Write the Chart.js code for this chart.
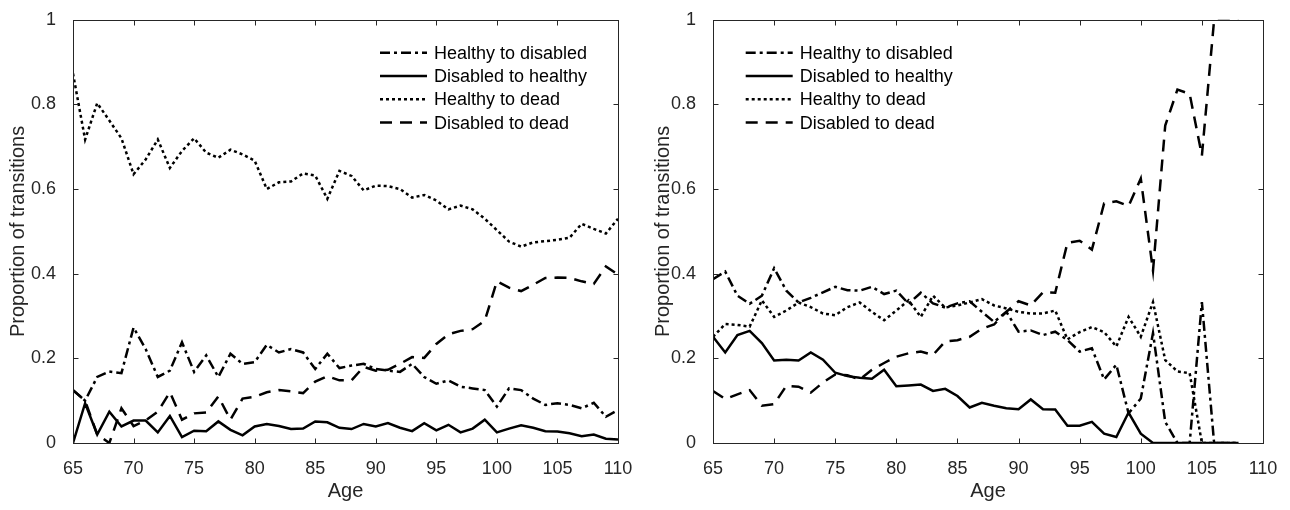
<!DOCTYPE html>
<html>
<head>
<meta charset="utf-8">
<script src="https://cdn.jsdelivr.net/npm/chart.js@4.4.1/dist/chart.umd.min.js"></script>
<style>
  body { margin: 0; background: #fff; }
  .painel { position: absolute; top: 0; width: 645px; height: 510px; }
</style>
</head>
<body>
<div class="painel" style="left:0"><canvas id="graficoEsq" width="645" height="510"></canvas></div>
<div class="painel" style="left:645px"><canvas id="graficoDir" width="645" height="510"></canvas></div>
<script>
// idades (eixo x)
const idadesEsq = [65,66,67,68,69,70,71,72,73,74,75,76,77,78,79,80,81,82,83,84,85,86,87,88,89,90,
  91,92,93,94,95,96,97,98,99,100,101,102,103,104,105,106,107,108,109,110]
const idadesDir = [65,66,67,68,69,70,71,72,73,74,75,76,77,78,79,80,81,82,83,84,85,86,87,88,89,90,
  91,92,93,94,95,96,97,98,99,100,101,102,103,104,105,106,107,108]

const rotulos = ["Healthy to disabled", "Disabled to healthy", "Healthy to dead", "Disabled to dead"]
const ticksX = [65,70,75,80,85,90,95,100,105,110]
const ticksY = [0,0.2,0.4,0.6,0.8,1]
const textosY = ["0","0.2","0.4","0.6","0.8","1"]

// painel esquerdo
const saudavelDoenteEsq = [0.125,0.100,0.156,0.169,0.165,0.273,0.222,0.156,0.171,0.238,0.168,0.207,0.156,0.211,0.187,0.191,
  0.232,0.214,0.222,0.214,0.175,0.211,0.177,0.183,0.187,0.175,0.171,0.168,0.187,0.156,0.140,0.148,0.133,0.129,0.125,0.086,
  0.129,0.125,0.105,0.090,0.094,0.090,0.082,0.095,0.062,0.078]
const doenteSaudavelEsq = [0,0.094,0.020,0.074,0.039,0.053,0.053,0.025,0.064,0.014,0.029,0.028,0.051,0.031,0.018,0.039,
  0.045,0.040,0.033,0.034,0.051,0.049,0.036,0.033,0.045,0.039,0.047,0.036,0.028,0.047,0.030,0.043,0.025,0.034,0.055,0.025,
  0.034,0.042,0.036,0.028,0.027,0.023,0.016,0.020,0.010,0.008]
const saudavelMortoEsq = [0.873,0.717,0.803,0.762,0.720,0.635,0.670,0.717,0.650,0.690,0.720,0.686,0.674,0.693,0.682,0.667,
  0.600,0.616,0.618,0.637,0.632,0.577,0.643,0.631,0.597,0.608,0.607,0.600,0.580,0.586,0.573,0.552,0.561,0.552,0.530,0.503,
  0.476,0.464,0.474,0.477,0.480,0.485,0.518,0.506,0.495,0.530]
const doenteMortoEsq = [0.125,0.100,0.020,0.000,0.082,0.040,0.053,0.074,0.120,0.055,0.070,0.072,0.110,0.055,0.105,0.109,
  0.120,0.125,0.122,0.118,0.145,0.158,0.148,0.148,0.180,0.171,0.173,0.187,0.203,0.201,0.234,0.257,0.265,0.269,0.289,0.382,
  0.367,0.359,0.374,0.390,0.391,0.390,0.382,0.376,0.417,0.398]

// painel direito
const saudavelDoenteDir = [0.387,0.405,0.348,0.329,0.348,0.413,0.360,0.332,0.343,0.356,0.369,0.361,0.360,0.369,0.352,0.360,
  0.329,0.355,0.330,0.320,0.330,0.335,0.310,0.286,0.310,0.263,0.266,0.255,0.263,0.243,0.216,0.224,0.150,0.185,0.070,0.105,
  0.260,0.050,0,0,0.333,0,0,0]
const doenteSaudavelDir = [0.251,0.214,0.255,0.265,0.236,0.195,0.197,0.195,0.214,0.197,0.166,0.158,0.154,0.152,0.173,0.134,
  0.136,0.138,0.123,0.128,0.111,0.084,0.095,0.088,0.082,0.080,0.103,0.080,0.079,0.041,0.041,0.050,0.022,0.014,0.072,0.022,
  0,0,0,0,0,0,0,0]
const saudavelMortoDir = [0.251,0.281,0.279,0.275,0.337,0.298,0.313,0.332,0.321,0.306,0.302,0.321,0.332,0.310,0.290,0.313,
  0.337,0.298,0.348,0.320,0.325,0.332,0.340,0.325,0.318,0.310,0.306,0.306,0.313,0.245,0.262,0.274,0.262,0.228,0.298,0.251,
  0.333,0.196,0.169,0.165,0,0,0,0]
const doenteMortoDir = [0.123,0.104,0.115,0.125,0.088,0.092,0.135,0.133,0.119,0.143,0.162,0.160,0.150,0.173,0.189,0.204,
  0.212,0.216,0.208,0.240,0.243,0.251,0.270,0.280,0.310,0.335,0.325,0.356,0.355,0.473,0.478,0.457,0.566,0.571,0.560,0.625,
  0.407,0.750,0.835,0.825,0.679,1,1,1]

const tracos = [[10,4,3,4], [], [3,3], [12,8]]
const corTexto = "#262626"
const fonte = "'Liberation Sans', Arial, sans-serif"

// caixa com ticks para dentro (estilo MATLAB)
const caixaEixos = {
  id: "caixaEixos",
  afterDraw(chart) {
    const ctx = chart.ctx
    const a = chart.chartArea
    const x = chart.scales.x
    const y = chart.scales.y
    ctx.save()
    ctx.strokeStyle = corTexto
    ctx.lineWidth = 1
    ctx.setLineDash([])
    const L = Math.round(a.left) + 0.5, R = Math.round(a.right) + 0.5
    const T = Math.round(a.top) + 0.5, B = Math.round(a.bottom) + 0.5
    ctx.strokeRect(L, T, R - L, B - T)
    ctx.beginPath()
    ticksX.forEach(v => {
      const px = Math.round(x.getPixelForValue(v)) + 0.5
      ctx.moveTo(px, B); ctx.lineTo(px, B - 5)
      ctx.moveTo(px, T); ctx.lineTo(px, T + 5)
    })
    ticksY.forEach(v => {
      const py = Math.round(y.getPixelForValue(v)) + 0.5
      ctx.moveTo(L, py); ctx.lineTo(L + 5, py)
      ctx.moveTo(R, py); ctx.lineTo(R - 5, py)
    })
    ctx.stroke()
    ctx.restore()
  }
}

// legenda desenhada dentro da area do grafico
const legendaInterna = {
  id: "legendaInterna",
  afterDraw(chart, args, opts) {
    const ctx = chart.ctx
    ctx.save()
    ctx.font = "18px " + fonte
    ctx.textBaseline = "middle"
    ctx.fillStyle = "#000"
    chart.data.datasets.forEach((ds, i) => {
      const yy = opts.y + i * 23.3
      ctx.strokeStyle = "#000"
      ctx.lineWidth = ds.borderWidth
      ctx.setLineDash(ds.borderDash)
      ctx.beginPath()
      ctx.moveTo(opts.x, yy)
      ctx.lineTo(opts.x + 47, yy)
      ctx.stroke()
      ctx.fillText(ds.label, opts.x + 54, yy + 1)
    })
    ctx.restore()
  }
}

function montarSeries(idades, listas) {
  return listas.map((vals, i) => ({
    label: rotulos[i],
    data: vals.map((v, k) => ({ x: idades[k], y: v })),
    borderColor: "#000",
    borderWidth: 2.5,
    borderDash: tracos[i],
    pointRadius: 0,
    tension: 0,
    fill: false
  }))
}

function config(series, larguraY, legX) {
  return {
    type: "line",
    data: { datasets: series },
    options: {
      responsive: false,
      animation: false,
      layout: { padding: { left: 0, right: 27, top: 16, bottom: 0 } },
      plugins: {
        legend: { display: false },
        tooltip: { enabled: false },
        legendaInterna: { x: legX, y: 52.7 }
      },
      scales: {
        x: {
          type: "linear", min: 65, max: 110,
          afterFit: s => { s.height = 67 },
          grid: { display: false },
          border: { display: false },
          afterBuildTicks: s => { s.ticks = ticksX.map(v => ({ value: v })) },
          ticks: { color: corTexto, font: { family: fonte, size: 18 }, padding: 7, maxRotation: 0 },
          title: { display: true, text: "Age", color: corTexto, font: { family: fonte, size: 20 }, padding: { top: 0, bottom: 7 } }
        },
        y: {
          min: 0, max: 1,
          afterFit: s => { s.width = larguraY },
          grid: { display: false },
          border: { display: false },
          afterBuildTicks: s => { s.ticks = ticksY.map(v => ({ value: v })) },
          ticks: {
            color: corTexto, font: { family: fonte, size: 18 }, padding: 9,
            callback: (v, i) => textosY[i]
          },
          title: { display: true, text: "Proportion of transitions", color: corTexto, font: { family: fonte, size: 20 }, padding: { top: 6, bottom: 0 } }
        }
      }
    },
    plugins: [caixaEixos, legendaInterna]
  }
}

function criarGraficos() {
  const seriesEsq = montarSeries(idadesEsq, [saudavelDoenteEsq, doenteSaudavelEsq, saudavelMortoEsq, doenteMortoEsq])
  const seriesDir = montarSeries(idadesDir, [saudavelDoenteDir, doenteSaudavelDir, saudavelMortoDir, doenteMortoDir])
  new Chart(document.getElementById("graficoEsq"), config(seriesEsq, 73, 380))
  new Chart(document.getElementById("graficoDir"), config(seriesDir, 68, 100.7))
}

criarGraficos()
</script>
</body>
</html>
